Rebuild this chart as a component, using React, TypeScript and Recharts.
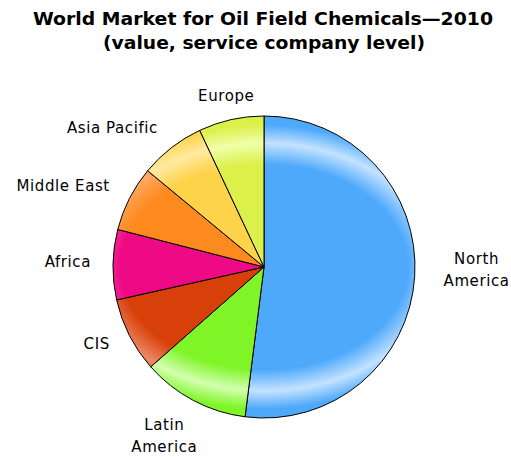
import React from 'react';
import { PieChart, Pie, Cell } from 'recharts';

const regions = ['North\nAmerica', 'Latin\nAmerica', 'CIS', 'Africa', 'Middle East', 'Asia Pacific', 'Europe'];
const shares = [52, 11.5, 8, 7.5, 7, 7, 7];
const colors = ['#4ea9fb', '#7ff527', '#d8400a', '#ee0a85', '#fd8a1f', '#fdd34a', '#dcf04a'];
const highlights = ['#c4e2ff', '#d4ffb0', '#ec8a66', '#f75aac', '#ffaa64', '#ffeaa0', '#f0ffaa'];
const titleLines = ['World Market for Oil Field Chemicals\u20142010', '(value, service company level)'];

const data = regions.map((name, i) => ({ name, value: shares[i] }));

const W = 511;
const H = 457;
const CX = 264;
const CY = 267;
const R = 151;

const renderLabel = (props: any) => {
  const { cx, cy, midAngle, outerRadius, name } = props;
  const RAD = Math.PI / 180;
  const r = outerRadius + 22;
  const s = Math.cos(-midAngle * RAD);
  const c = Math.sin(-midAngle * RAD);
  const x = cx + r * s;
  const y = cy + r * c;
  const lines: string[] = String(name).split('\n');
  const lh = 22;
  if (lines.length > 1) {
    const half = 40;
    const bx = x + s * half;
    const by = y + c * 30 - 10;
    return (
      <text x={bx} y={by} textAnchor="middle" fontFamily="DejaVu Sans" fontSize={15} letterSpacing={0.6} fill="#000">
        {lines.map((l, i) => (
          <tspan key={i} x={bx} y={by + (i - (lines.length - 1) / 2) * lh} dominantBaseline="central">
            {l}
          </tspan>
        ))}
      </text>
    );
  }
  let anchor: 'start' | 'middle' | 'end' = 'middle';
  if (s < -0.6) anchor = 'end';
  else if (s > 0.6) anchor = 'start';
  return (
    <text x={x} y={y - 2} textAnchor={anchor} dominantBaseline="central" fontFamily="DejaVu Sans" fontSize={15} letterSpacing={0.6} fill="#000">
      {name}
    </text>
  );
};

export default function App() {
  return (
    <div style={{ position: 'absolute', left: 0, top: 0, width: W, height: H, background: '#fff' }}>
      <svg width={W} height={H} style={{ position: 'absolute', left: 0, top: 0 }}>
        <text x={263} y={19} textAnchor="middle" dominantBaseline="central" fontFamily="DejaVu Sans" fontWeight="bold" fontSize={17} textLength={460} lengthAdjust="spacingAndGlyphs">
          {titleLines[0]}
        </text>
        <text x={264} y={43} textAnchor="middle" dominantBaseline="central" fontFamily="DejaVu Sans" fontWeight="bold" fontSize={17} textLength={322} lengthAdjust="spacingAndGlyphs">
          {titleLines[1]}
        </text>
      </svg>
      <div style={{ position: 'absolute', left: 0, top: 0 }}>
        <PieChart width={W} height={H} margin={{ top: 0, right: 0, bottom: 0, left: 0 }}>
          <defs>
            {colors.map((col, i) => (
              <radialGradient
                key={i}
                id={`g${i}`}
                gradientUnits="userSpaceOnUse"
                cx={CX}
                cy={CY}
                r={R}
                gradientTransform={`translate(${CX} ${CY}) scale(1.4 1) translate(${-CX} ${-CY})`}
              >
                <stop offset="0%" stopColor={col} />
                <stop offset="68%" stopColor={col} />
                <stop offset="82%" stopColor={highlights[i]} />
                <stop offset="94%" stopColor={col} />
                <stop offset="100%" stopColor={col} />
              </radialGradient>
            ))}
          </defs>
          <Pie
            data={data}
            dataKey="value"
            nameKey="name"
            cx={CX}
            cy={CY}
            outerRadius={R}
            innerRadius={0}
            startAngle={90}
            endAngle={-270}
            stroke="#000"
            strokeWidth={1}
            label={renderLabel}
            labelLine={false}
            isAnimationActive={false}
          >
            {data.map((d, i) => (
              <Cell key={d.name} fill={`url(#g${i})`} />
            ))}
          </Pie>
        </PieChart>
      </div>
    </div>
  );
}
